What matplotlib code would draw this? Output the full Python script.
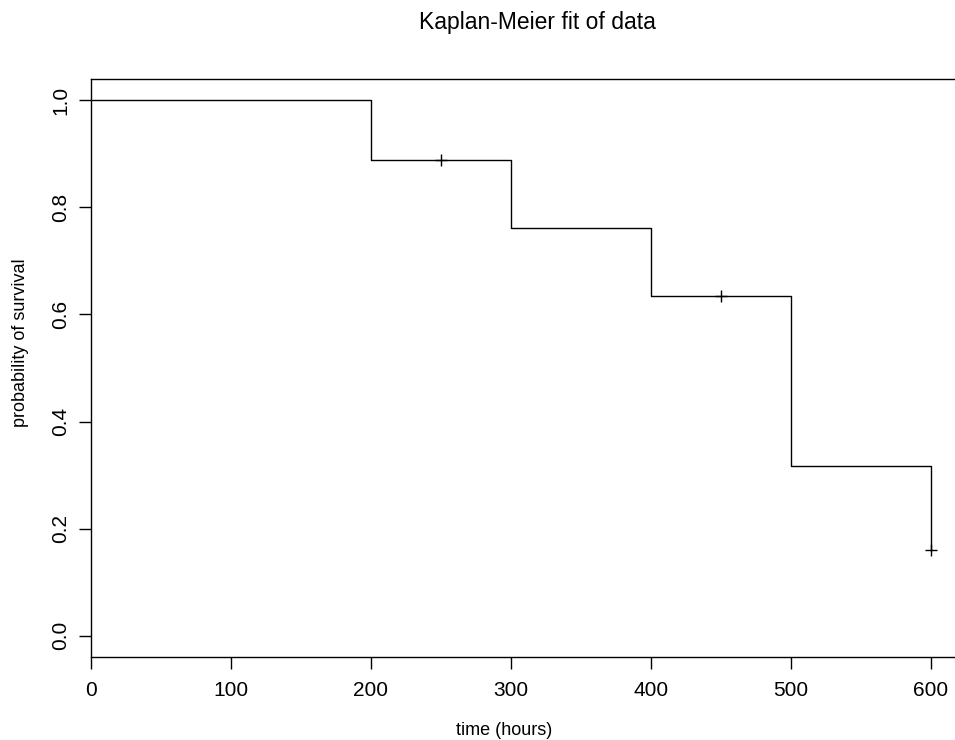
import matplotlib
matplotlib.use('agg')
from matplotlib import pyplot as plt

plt.rcParams['font.family'] = ['Liberation Sans', 'DejaVu Sans']

# Kaplan-Meier estimate
times = [0, 200, 300, 400, 500, 600]
surv = [1.0, 0.889, 0.762, 0.635, 0.317, 0.159]
# censored observations
cens_t = [250, 450, 600]
cens_s = [0.889, 0.635, 0.159]

xticks = [0, 100, 200, 300, 400, 500, 600]
yticks = [0.0, 0.2, 0.4, 0.6, 0.8, 1.0]
ylabels = ['0.0', '0.2', '0.4', '0.6', '0.8', '1.0']

W, H = 955, 740
fig = plt.figure(figsize=(W / 100, H / 100), dpi=100)
ax = fig.add_axes([91 / W, 83 / H, (980 - 91) / W, 578 / H])

ax.plot(times, surv, drawstyle='steps-post', color='black', linewidth=1.0)
ax.plot(cens_t, cens_s, linestyle='none', marker='+', markersize=9,
        markeredgewidth=1.0, color='black')

ax.set_xlim(0, (980 - 91) / 1.4)
ax.set_ylim(-0.04, 1.04)
ax.set_xticks(xticks)
ax.set_yticks(yticks)
ax.set_yticklabels(ylabels, rotation=90, va='center')
ax.tick_params(direction='out', length=8.6, width=1.0, labelsize=15)
ax.tick_params(axis='x', pad=9)
ax.tick_params(axis='y', pad=6.5)
for s in ax.spines.values():
    s.set_linewidth(1.0)

fig.text(537 / W, 1 - 29 / H, 'Kaplan-Meier fit of data', ha='center',
         va='baseline', fontsize=16.5)
fig.text(504 / W, 1 - 735 / H, 'time (hours)', ha='center', va='baseline',
         fontsize=13)
fig.text(25 / W, 1 - 343 / H, 'probability of survival', ha='center',
         va='baseline', rotation=90, rotation_mode='anchor', fontsize=13)

fig.savefig('out.png', dpi=100)
